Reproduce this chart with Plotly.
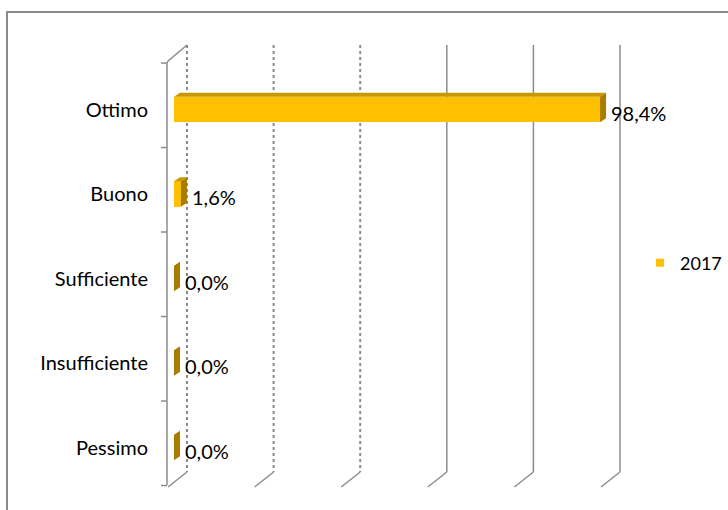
import plotly.graph_objects as go

# Survey results: rating distribution for 2017
categories = ["Ottimo", "Buono", "Sufficiente", "Insufficiente", "Pessimo"]
values_2017 = [98.4, 1.6, 0.0, 0.0, 0.0]
series_name = "2017"
grid_values = [0, 20, 40, 60, 80, 100]

W, H = 728, 510
ML = 167                      # left margin (front axis position)
PX_PER_UNIT = 86.6 / 20       # horizontal scale
X0_PX = 174                   # pixel where value 0 sits (bar front face)
Y0_PX, ROW_PX = 109.5, 84.5   # first category centre and row pitch

def px_to_x(px):
    return (px - X0_PX) / PX_PER_UNIT

def py_to_y(py):
    return (py - Y0_PX) / ROW_PX

def px_to_paper(px):
    return (px - ML) / (W - ML)

def py_to_paper(py):
    return 1 - py / H

FRONT = "#FFC000"
TOP = "#C99700"
SIDE = "#A97C00"
GRID = "#8C8C8C"
BAR_W = 0.30
DEPTH_DX = 6 / PX_PER_UNIT
DEPTH_DY = 4 / ROW_PX
FONT = "Lato"
FSIZE = 20

ypos = list(range(len(categories)))

fig = go.Figure()
fig.add_trace(go.Bar(
    x=values_2017, y=ypos, orientation="h", width=BAR_W,
    marker=dict(color=FRONT, line=dict(width=0)),
    showlegend=False, hoverinfo="skip",
))
# legend entry
fig.add_trace(go.Scatter(
    x=[None], y=[None], mode="markers", name=series_name,
    marker=dict(symbol="square", size=8, color=FRONT),
))

shapes = []

# back-wall gridlines with their floor diagonals
back_off = 13 / PX_PER_UNIT
y_top, y_back_bot, y_front_bot = py_to_y(45), py_to_y(472), py_to_y(487)
front_dx = 19 / PX_PER_UNIT
for k, g in enumerate(grid_values):
    xb = g + back_off
    dash = "dot" if k < 3 else "solid"
    col = "#8A8A8A" if k < 3 else GRID
    width = 2 if k < 3 else 1.5
    shapes.append(dict(type="line", xref="x", yref="y", x0=xb, x1=xb,
                       y0=y_top, y1=y_back_bot, layer="below",
                       line=dict(color=col, width=width, dash=dash)))
    shapes.append(dict(type="line", xref="x", yref="y", x0=xb, x1=xb - front_dx,
                       y0=y_back_bot, y1=y_front_bot, layer="below",
                       line=dict(color=GRID, width=1.5)))

# front vertical axis and its top diagonal
ax_x = px_to_paper(167)
shapes.append(dict(type="line", xref="paper", yref="y", x0=ax_x, x1=ax_x,
                   y0=py_to_y(62), y1=py_to_y(485), layer="below",
                   line=dict(color=GRID, width=1.5)))
shapes.append(dict(type="line", xref="x", yref="y", x0=px_to_x(167), x1=back_off,
                   y0=py_to_y(62), y1=y_top, layer="below",
                   line=dict(color=GRID, width=1.5)))
# category boundary ticks
for i in range(len(categories) + 1):
    yb = i - 0.5 - 0.05
    shapes.append(dict(type="line", xref="paper", yref="y",
                       x0=px_to_paper(161), x1=ax_x, y0=yb, y1=yb, layer="below",
                       line=dict(color=GRID, width=1.5)))

# 3D top and side faces of each bar
for i, v in enumerate(values_2017):
    top, bot = i - BAR_W / 2, i + BAR_W / 2
    shapes.append(dict(
        type="path", xref="x", yref="y", layer="above", line=dict(width=0),
        fillcolor=TOP,
        path=f"M0,{top} L{v},{top} L{v + DEPTH_DX},{top - DEPTH_DY} "
             f"L{DEPTH_DX},{top - DEPTH_DY} Z"))
    shapes.append(dict(
        type="path", xref="x", yref="y", layer="above", line=dict(width=0),
        fillcolor=SIDE,
        path=f"M{v},{top} L{v + DEPTH_DX},{top - DEPTH_DY} "
             f"L{v + DEPTH_DX},{bot - DEPTH_DY} L{v},{bot} Z"))

# outer chart frame
fx = px_to_paper(7)
fy = py_to_paper(12)
shapes.append(dict(type="path", xref="paper", yref="paper", layer="below",
                   path=f"M{fx},{-0.01} L{fx},{fy} L1.01,{fy}",
                   line=dict(color="#8A8A8A", width=2)))

annotations = []
for i, v in enumerate(values_2017):
    annotations.append(dict(
        x=v, y=i, xref="x", yref="y", xanchor="left", yanchor="middle",
        text=f"{v:.1f}%".replace(".", ","), showarrow=False,
        xshift=9, yshift=-3,
        font=dict(family=FONT, size=FSIZE, color="#000000"),
    ))

fig.update_layout(
    width=W, height=H,
    margin=dict(l=ML, r=0, t=0, b=0, autoexpand=False),
    paper_bgcolor="white", plot_bgcolor="white",
    font=dict(family=FONT, size=FSIZE, color="#000000"),
    xaxis=dict(range=[px_to_x(ML), px_to_x(W)], showgrid=False, zeroline=False,
               showticklabels=False, showline=False, fixedrange=True),
    yaxis=dict(range=[py_to_y(H), py_to_y(0)], tickvals=ypos, ticktext=categories,
               showgrid=False, zeroline=False, showline=False, ticks="",
               ticklabelstandoff=18, fixedrange=True),
    legend=dict(x=px_to_paper(640), y=py_to_paper(263), xanchor="left",
                yanchor="middle", bgcolor="rgba(0,0,0,0)",
                font=dict(family=FONT, size=18, color="#000000")),
    shapes=shapes,
    annotations=annotations,
    bargap=0,
)

fig.write_html("out.html")
